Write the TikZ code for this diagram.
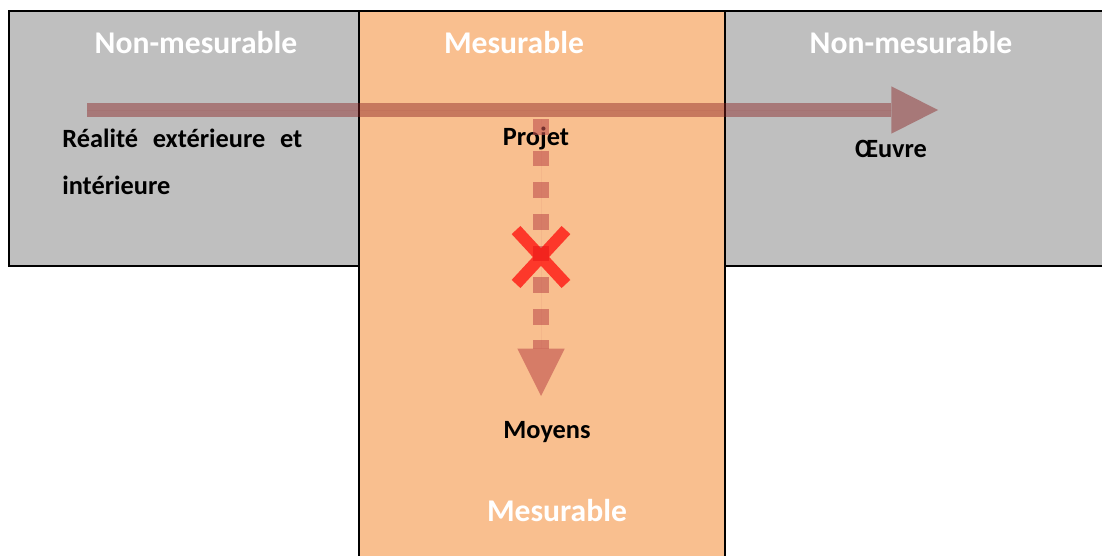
\documentclass[tikz,border=0pt]{standalone}
\usepackage{fontspec}
\setmainfont{Carlito}
\usetikzlibrary{arrows.meta,shapes.misc}
\definecolor{ZoneGray}{HTML}{BFBFBF}
\definecolor{ZoneOrange}{HTML}{F9BF8F}
\definecolor{FlowRed}{HTML}{8B2323}
\definecolor{BlockRed}{HTML}{C0504D}

\begin{document}
\begin{tikzpicture}[x=0.02cm, y=-0.02cm,
    zone/.style={draw=black, line width=1.1pt},
    heading/.style={text=white, font=\fontsize{18}{20}\selectfont\bfseries},
    word/.style={font=\fontsize{15}{27.2}\selectfont\bfseries, inner sep=0pt},
    flow/.style={draw=FlowRed, fill=FlowRed, opacity=0.45, line width=8.5pt,
      -{Triangle[length=26.6pt,width=27pt,line width=0pt]}},
    blocked/.style={draw=BlockRed, fill=BlockRed, opacity=0.6, line width=9pt,
      dash pattern=on 9pt off 9pt, -{Triangle[length=27pt,width=27pt,line width=0pt]}},
    stopmark/.style={cross out, draw=red, opacity=0.7, line width=6.8pt,
      minimum width=0.76cm, minimum height=0.84cm, inner sep=0pt}]
  \useasboundingbox (0,0) rectangle (1102,555);

  % zones
  \draw[zone, fill=ZoneGray] (9,11) rectangle (359,266);
  \draw[zone, fill=ZoneGray] (725,11) rectangle (1110,266);
  \draw[zone, fill=ZoneOrange] (359,11) rectangle (725,565);

  % zone titles
  \node[heading] (lefttitle) at (196,43) {Non-mesurable};
  \node[heading] (midtitle) at (514,43) {Mesurable};
  \node[heading] (righttitle) at (911,43) {Non-mesurable};
  \node[heading] (bottomtitle) at (557,511) {Mesurable};

  % texts
  \node[word, anchor=base west, text width=4.8cm, align=justify] (reality) at (62,147)
    {R\'ealit\'e ext\'erieure et\linebreak int\'erieure};
  \node[word] (projet) at (536,138) {Projet};
  \node[word] (oeuvre) at (891,149) {Œuvre};
  \node[word] (moyens) at (547,432) {Moyens};

  % arrows
  \coordinate (flowstart) at (87,110);
  \coordinate (flowend) at (938,110);
  \draw[flow] (flowstart) -- (flowend);
  \coordinate (projstart) at (541,119);
  \coordinate (projend) at (541,396);
  \draw[blocked] (projstart) -- (projend);
  \node[stopmark] (stop) at (541,257) {};
\end{tikzpicture}
\end{document}
